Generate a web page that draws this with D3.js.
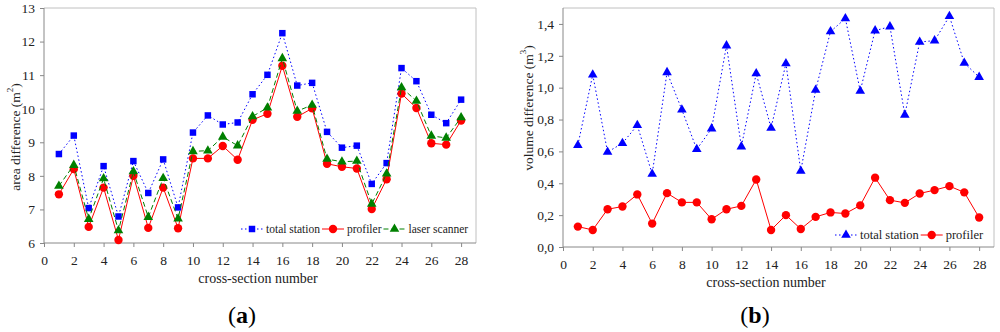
<!DOCTYPE html>
<html><head><meta charset="utf-8">
<script src="https://cdn.jsdelivr.net/npm/d3@7"></script>
<style>
html,body{margin:0;padding:0;background:#fff;}
</style></head>
<body>
<svg id="c" width="1000" height="332" style="display:block;font-family:'Liberation Serif',serif"></svg>
<script>
// ---- data ----
const sections = d3.range(1, 29);
const areaTotalStation = [8.65,9.20,7.04,8.29,6.79,8.44,7.49,8.49,7.06,9.29,9.80,9.53,9.59,10.43,11.01,12.25,10.69,10.77,9.31,8.84,8.90,7.76,8.38,11.21,10.82,9.82,9.57,10.27];
const areaProfiler     = [7.45,8.20,6.48,7.65,6.09,8.00,6.45,7.65,6.44,8.52,8.52,8.89,8.48,9.67,9.85,11.28,9.76,10.01,8.36,8.27,8.22,7.01,7.90,10.45,10.02,8.97,8.93,9.65];
const areaLaser        = [7.70,8.32,6.71,7.92,6.37,8.13,6.77,7.93,6.72,8.73,8.75,9.16,8.90,9.77,10.03,11.50,9.93,10.11,8.50,8.42,8.44,7.16,8.06,10.63,10.23,9.19,9.13,9.74];
const volTotalStation  = [0.639,1.081,0.596,0.651,0.764,0.458,1.096,0.861,0.613,0.743,1.264,0.630,1.089,0.747,1.152,0.477,0.985,1.352,1.434,0.979,1.358,1.383,0.829,1.287,1.295,1.448,1.155,1.066];
const volProfiler      = [0.128,0.107,0.237,0.254,0.330,0.147,0.338,0.280,0.280,0.174,0.237,0.258,0.424,0.107,0.200,0.113,0.189,0.217,0.210,0.261,0.435,0.294,0.277,0.336,0.357,0.382,0.343,0.185];
const xTicks = d3.range(0, 29, 2);
const areaTicks = [6,7,8,9,10,11,12,13];
const volTicks = [0,0.2,0.4,0.6,0.8,1.0,1.2,1.4];

const FONT = "'Liberation Serif', serif";
const svg = d3.select("#c");
const BLUE="#0000ff", RED="#ff0000", GREEN="#008000";

function panel(cfg){
  const g = svg.append("g");
  const x = d3.scaleLinear().domain([0,29]).range([cfg.x0, cfg.x1]);
  const y = d3.scaleLinear().domain(cfg.yDom).range([cfg.y0, cfg.y1]);
  g.append("path").attr("d",`M${cfg.x0},${cfg.y1}H${cfg.x1}V${cfg.y0}`)
    .attr("fill","none").attr("stroke","#c0c0c0").attr("stroke-width",1);
  const xa = g.append("g").attr("transform",`translate(0,${cfg.y0})`)
    .call(d3.axisBottom(x).tickValues(xTicks).tickSize(4).tickPadding(8).tickFormat(d3.format("d")));
  xa.attr("font-family",null);
  xa.select(".domain").attr("stroke","#888").attr("d",`M${cfg.x0},0H${cfg.x1}`);
  xa.selectAll(".tick line").attr("stroke","#888");
  xa.selectAll("text").style("font-family",FONT).style("font-size","13.5px").attr("fill","#222");
  const ya = g.append("g").attr("transform",`translate(${cfg.x0},0)`)
    .call(d3.axisLeft(y).tickValues(cfg.yTicks).tickSize(4).tickPadding(5).tickFormat(cfg.fmt));
  ya.attr("font-family",null);
  ya.select(".domain").attr("stroke","#888").attr("d",`M0,${cfg.y0}V${cfg.y1}`);
  ya.selectAll(".tick line").attr("stroke","#888");
  ya.selectAll("text").style("font-family",FONT).style("font-size","13.5px").attr("fill","#222");
  cfg.series.forEach(s=>{
    const line = d3.line().x((d,i)=>x(sections[i])).y(d=>y(d));
    g.append("path").datum(s.values).attr("d",line).attr("fill","none")
      .attr("stroke",s.color).attr("stroke-width",1).attr("stroke-dasharray",s.dash);
    g.selectAll(null).data(s.values).enter().append("path")
      .attr("transform",(d,i)=>`translate(${x(sections[i])},${y(d)})`)
      .attr("d",d3.symbol().type(s.sym).size(s.size)).attr("fill",s.color);
  });
  let lx = cfg.legX;
  cfg.series.forEach(s=>{
    g.append("line").attr("x1",lx).attr("x2",lx+22).attr("y1",cfg.legY).attr("y2",cfg.legY)
      .attr("stroke",s.color).attr("stroke-width",1).attr("stroke-dasharray",s.dash);
    g.append("path").attr("transform",`translate(${lx+11},${cfg.legY})`)
      .attr("d",d3.symbol().type(s.sym).size(s.size)).attr("fill",s.color);
    const t = g.append("text").attr("x",lx+25).attr("y",cfg.legY).attr("dy","0.35em")
      .style("font-family",FONT).style("font-size",cfg.legFont+"px").attr("fill","#222").text(s.name);
    lx += 25 + t.node().getComputedTextLength() + 2;
  });
  g.append("text").attr("x",cfg.xTitleX).attr("y",cfg.y0+35).attr("dy","0.35em")
    .attr("text-anchor","middle").style("font-family",FONT).style("font-size","14px").attr("fill","#222").text("cross-section number");
  const yt = g.append("text").attr("transform",`translate(${cfg.yTitleX},${cfg.yTitleY}) rotate(-90)`)
    .attr("text-anchor","middle").attr("dy","0.35em").style("font-family",FONT).style("font-size","13.5px").attr("fill","#222");
  yt.append("tspan").text(cfg.yTitle);
  yt.append("tspan").style("font-size","9px").attr("dy","-0.7em").text(cfg.sup);
  yt.append("tspan").attr("dy","0.45em").text(")");
  const pl = g.append("text").attr("x",cfg.labX).attr("y",323).attr("text-anchor","middle")
    .style("font-family",FONT).style("font-size","24px").attr("fill","#000");
  pl.append("tspan").text("(");
  pl.append("tspan").attr("font-weight","bold").text(cfg.lab);
  pl.append("tspan").text(")");
}

panel({
  x0:44, x1:476, y0:243, y1:8, yDom:[6,13], yTicks:areaTicks, fmt:d3.format("d"),
  series:[
    {name:"total station", values:areaTotalStation, color:BLUE, dash:"1.5,2.5", sym:d3.symbolSquare, size:42},
    {name:"profiler", values:areaProfiler, color:RED, dash:null, sym:d3.symbolCircle, size:55},
    {name:"laser scanner", values:areaLaser, color:GREEN, dash:"5,3", sym:d3.symbolTriangle, size:40}
  ],
  legX:241, legY:229, legFont:11.5,
  xTitleX:258, yTitleX:15, yTitleY:137, yTitle:"area difference (m", sup:"2",
  labX:242, lab:"a"
});
panel({
  x0:563, x1:994, y0:247, y1:8, yDom:[0,1.5], yTicks:volTicks, fmt:d=>d3.format(".1f")(d).replace(".",","),
  series:[
    {name:"total station", values:volTotalStation, color:BLUE, dash:"1.5,2.5", sym:d3.symbolTriangle, size:40},
    {name:"profiler", values:volProfiler, color:RED, dash:null, sym:d3.symbolCircle, size:55}
  ],
  legX:835, legY:235, legFont:12.5,
  xTitleX:766, yTitleX:528, yTitleY:108, yTitle:"volume difference (m", sup:"3",
  labX:755, lab:"b"
});
</script>
</body></html>
